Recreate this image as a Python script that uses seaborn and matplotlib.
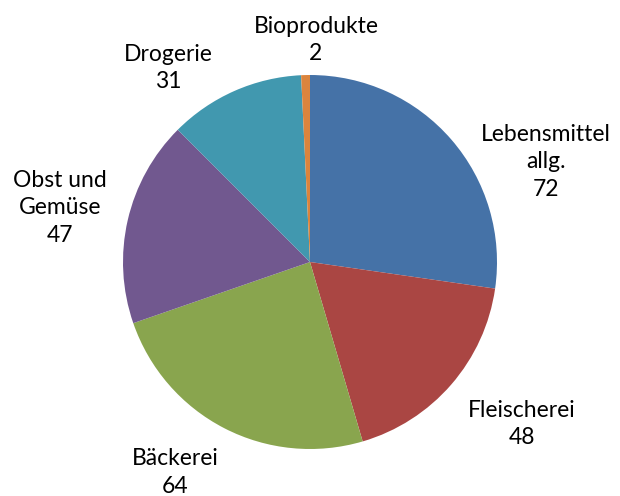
import matplotlib
matplotlib.use("Agg")
import matplotlib.pyplot as plt
import seaborn as sns

# Daten
categories = ["Lebensmittel\nallg.", "Fleischerei", "Bäckerei", "Obst und\nGemüse", "Drogerie", "Bioprodukte"]
values = [72, 48, 64, 47, 31, 2]
colors = ["#4572A7", "#AA4643", "#89A54E", "#71588F", "#4198AF", "#DB843D"]

# Label-Positionen (Layout, in Radien-Einheiten)
label_pos = [(1.262, 0.535), (1.134, -0.866), (-0.722, -1.125),
             (-1.337, 0.289), (-0.759, 1.037), (0.032, 1.187)]

sns.set_theme(style="white")
plt.rcParams["font.family"] = ["Lato", "DejaVu Sans"]

fig = plt.figure(figsize=(6.2, 4.96), dpi=100)
ax = fig.add_axes([0, 0, 1, 1])

ax.pie(values, colors=sns.color_palette(colors), startangle=90, counterclock=False,
       radius=1.0, wedgeprops={"linewidth": 0})

for name, val, (x, y) in zip(categories, values, label_pos):
    ax.text(x, y, f"{name}\n{val}", ha="center", va="center", fontsize=16.5,
            linespacing=1.38, color="#000000")

ax.set_xlim(-310 / 187, 310 / 187)
ax.set_ylim(-(496 - 262) / 187, 262 / 187)
ax.set_aspect("auto")
ax.axis("off")

fig.savefig("out.png", dpi=100)
